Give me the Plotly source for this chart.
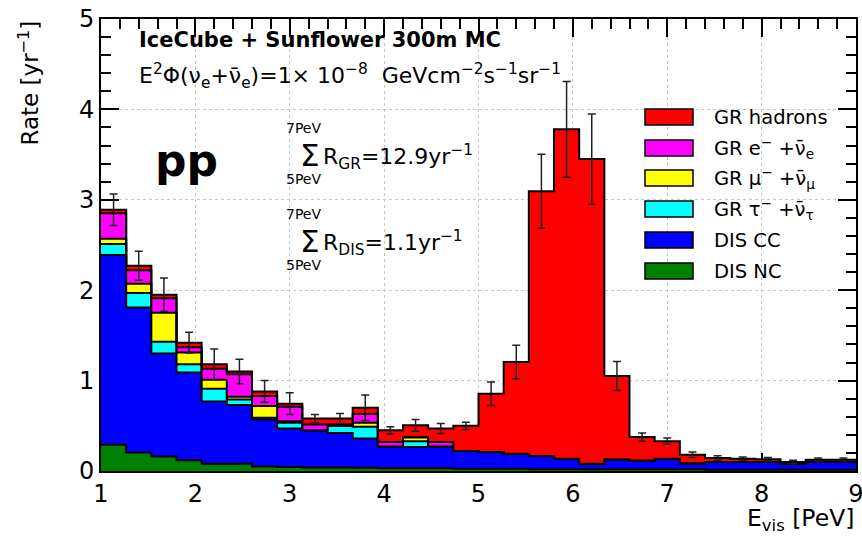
import numpy as np
import plotly.graph_objects as go

# Visible-energy binning: 30 bins between 1 and 9 PeV
e_lo, e_hi, n_bins = 1.0, 9.0, 30

# Per-bin rates [1/yr] for each channel (stacked bottom -> top)
dis_nc = [0.29, 0.205, 0.16, 0.12, 0.08, 0.08, 0.05, 0.045, 0.04, 0.04,
          0.035, 0.03, 0.03, 0.03, 0.025, 0.025, 0.025, 0.02, 0.02, 0.02,
          0.02, 0.02, 0.02, 0.02, 0.015, 0.015, 0.015, 0.015, 0.015, 0.015]
dis_cc = [2.10, 1.605, 1.14, 0.97, 0.69, 0.65, 0.52, 0.425, 0.41, 0.38,
          0.325, 0.24, 0.235, 0.24, 0.195, 0.185, 0.165, 0.145, 0.116, 0.06,
          0.11, 0.095, 0.116, 0.067, 0.085, 0.085, 0.085, 0.065, 0.085, 0.085]
gr_tau = [0.12, 0.16, 0.13, 0.09, 0.14, 0.06, 0.02, 0.065, 0.0, 0.08,
          0.13, 0.0, 0.065, 0.0, 0.0, 0.0, 0.0, 0.0, 0.0, 0.0,
          0.0, 0.0, 0.0, 0.0, 0.0, 0.0, 0.0, 0.0, 0.0, 0.0]
gr_mu = [0.06, 0.10, 0.32, 0.13, 0.10, 0.03, 0.13, 0.015, 0.0, 0.0,
         0.045, 0.0, 0.04, 0.0, 0.0, 0.0, 0.0, 0.0, 0.0, 0.0,
         0.0, 0.0, 0.0, 0.0, 0.0, 0.0, 0.0, 0.0, 0.0, 0.0]
gr_e = [0.28, 0.15, 0.16, 0.06, 0.12, 0.25, 0.11, 0.16, 0.065, 0.015,
        0.095, 0.05, 0.005, 0.05, 0.0, 0.0, 0.0, 0.0, 0.0, 0.0,
        0.0, 0.0, 0.0, 0.0, 0.0, 0.0, 0.0, 0.0, 0.0, 0.0]
gr_had = [0.04, 0.05, 0.04, 0.05, 0.05, 0.03, 0.05, 0.035, 0.065, 0.065,
          0.07, 0.13, 0.13, 0.15, 0.28, 0.645, 1.015, 2.93, 3.644, 3.37,
          0.92, 0.26, 0.194, 0.093, 0.043, 0.036, 0.03, 0.02, 0.025, 0.025]
# Statistical uncertainty on the summed rate
rate_err = [0.175, 0.16, 0.185, 0.115, 0.17, 0.135, 0.12, 0.12, 0.045, 0.055,
            0.14, 0.04, 0.065, 0.055, 0.04, 0.13, 0.185, 0.41, 0.53, 0.5,
            0.16, 0.045, 0.035, 0.03, 0.025, 0.02, 0.02, 0.02, 0.02, 0.02]

layers = [
    (dis_nc, "DIS NC", "#008000"),
    (dis_cc, "DIS CC", "#0000ff"),
    (gr_tau, "GR τ<sup>−</sup> +ν̄<sub>τ</sub>", "#00ffff"),
    (gr_mu, "GR μ<sup>−</sup> +ν̄<sub>μ</sub>", "#ffff00"),
    (gr_e, "GR e<sup>−</sup> +ν̄<sub>e</sub>", "#ff00ff"),
    (gr_had, "GR hadrons", "#ff0000"),
]

edges = np.linspace(e_lo, e_hi, n_bins + 1)
centers = 0.5 * (edges[:-1] + edges[1:])

fig = go.Figure()
cum = np.zeros(n_bins)
for i, (vals, name, col) in enumerate(layers):
    cum = cum + np.asarray(vals)
    fig.add_trace(go.Scatter(
        x=edges, y=np.append(cum, cum[-1]), mode="lines", name=name,
        line=dict(shape="hv", color="black", width=2),
        fill="tozeroy" if i == 0 else "tonexty", fillcolor=col,
        showlegend=False, hoverinfo="skip"))

fig.add_trace(go.Scatter(
    x=centers, y=cum, mode="markers",
    marker=dict(size=1, color="black"),
    error_y=dict(type="data", array=rate_err, color="#222", thickness=1.5, width=4),
    showlegend=False, hoverinfo="skip"))

# Frame geometry (pixels) and helpers for placing decorations
L, R, T, B = 101, 856, 19, 471
W, H = 862, 536
def px(x):
    return (x - L) / (R - L)
def py(y):
    return (B - y) / (B - T)

FONT = "DejaVu Sans"
ann = []
def text(s, x, y, size, xanchor="left", yanchor="middle", angle=0, family=FONT):
    ann.append(dict(text=s, x=px(x), y=py(y), xref="paper", yref="paper",
                    xanchor=xanchor, yanchor=yanchor, showarrow=False,
                    textangle=angle, font=dict(family=family, size=size, color="black")))

text("<b>IceCube + Sunflower 300m MC</b>", 137, 40, 21)
text("E<sup>2</sup>Φ(ν<sub>e</sub>+ν̄<sub>e</sub>)=1× 10<sup>−8</sup>  GeVcm<sup>−2</sup>s<sup>−1</sup>sr<sup>−1</sup>",
     137, 76, 22)
text("<b>pp</b>", 153, 160, 44)

# Integrated rates between 5 and 7 PeV
for yc, label in [(157, "R<sub>GR</sub>=12.9yr<sup>−1</sup>"),
                  (243, "R<sub>DIS</sub>=1.1yr<sup>−1</sup>")]:
    text("7PeV", 303, yc - 29, 14, xanchor="center")
    text("Σ", 310, yc - 2, 31, xanchor="center")
    text("5PeV", 303, yc + 22, 14, xanchor="center")
    text(label, 321, yc, 22)

# Legend
shapes = []
leg_rows = [117, 148, 178, 209, 240, 271]
for yc, (vals, name, col) in zip(leg_rows, reversed(layers)):
    shapes.append(dict(type="rect", xref="paper", yref="paper",
                       x0=px(645), x1=px(693), y0=py(yc + 8), y1=py(yc - 8),
                       fillcolor=col, line=dict(color="black", width=1.5)))
    text(name, 712, yc, 19.5)

# Axis titles
text("Rate [yr<sup>−1</sup>]", 28, 19, 23, xanchor="center", yanchor="top", angle=-90)
text("E<sub>vis</sub> [PeV]", 856, 519, 23.5, xanchor="right")

axis_common = dict(
    showline=True, linecolor="black", linewidth=2, mirror="allticks",
    ticks="inside", ticklen=18, tickwidth=1.5, tickcolor="black",
    showgrid=True, gridcolor="#c8c8c8", griddash="dot", gridwidth=1,
    zeroline=False, layer="below traces", automargin=False,
    ticklabeloverflow="allow",
    tickfont=dict(family=FONT, size=24, color="black"),
)
fig.update_xaxes(range=[e_lo, e_hi], dtick=1, tick0=1,
                 minor=dict(dtick=0.2, ticklen=10, ticks="inside", tickcolor="black", showgrid=False),
                 **axis_common)
fig.update_yaxes(range=[0, 5], dtick=1, tick0=0,
                 minor=dict(dtick=0.2, ticklen=10, ticks="inside", tickcolor="black", showgrid=False),
                 **axis_common)

fig.update_layout(
    width=W, height=H,
    margin=dict(l=L, r=W - R, t=T, b=H - B, autoexpand=False),
    plot_bgcolor="white", paper_bgcolor="white",
    annotations=ann, shapes=shapes, showlegend=False,
)

fig.write_html("out.html")
